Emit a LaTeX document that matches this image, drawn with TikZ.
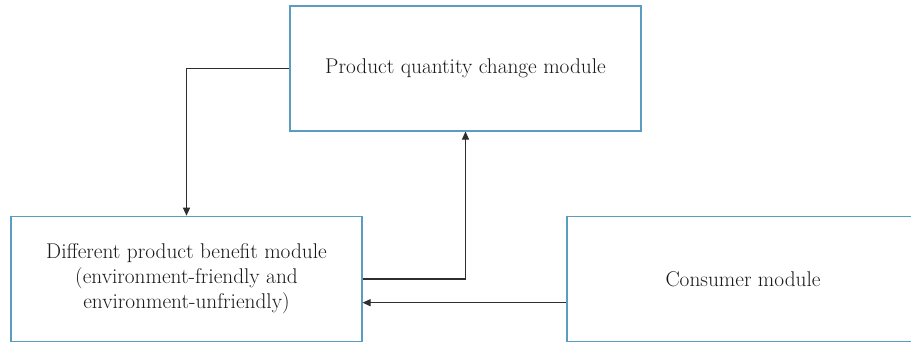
\documentclass[tikz,border=0pt]{standalone}
\usetikzlibrary{arrows.meta}
\definecolor{boxblue}{HTML}{5A9DC0}
\definecolor{linegray}{HTML}{2E2E2E}
\begin{document}
\begin{tikzpicture}[x=1pt,y=-1pt,
  module/.style={draw=boxblue, line width=1.1pt, rectangle, align=center,
    inner sep=0pt, font=\fontsize{21.3}{25}\selectfont, text=black!90},
  arr/.style={draw=linegray, line width=1.1pt, -{Triangle[length=8pt,width=7pt]}}]
  \clip (0,0) rectangle (911,343);
  \fill[white] (0,0) rectangle (911,343);
  % modules
  \node[module, minimum width=351pt, minimum height=125pt] (qty) at (465.5,68.5)
    {Product quantity change module};
  \node[module, minimum width=351pt, minimum height=125.5pt] (benefit) at (186.5,279)
    {Different product benefit module\\(environment-friendly and\\environment-unfriendly)};
  \node[module, minimum width=352pt, minimum height=125.5pt] (consumer) at (743,279)
    {Consumer module};
  % connectors
  \draw[arr] (qty.west) -| (benefit.north);
  \draw[arr] (benefit.east) -| (qty.south);
  \draw[arr] ([yshift=-23.7pt]consumer.west) -- ([yshift=-23.7pt]benefit.east);
\end{tikzpicture}
\end{document}
